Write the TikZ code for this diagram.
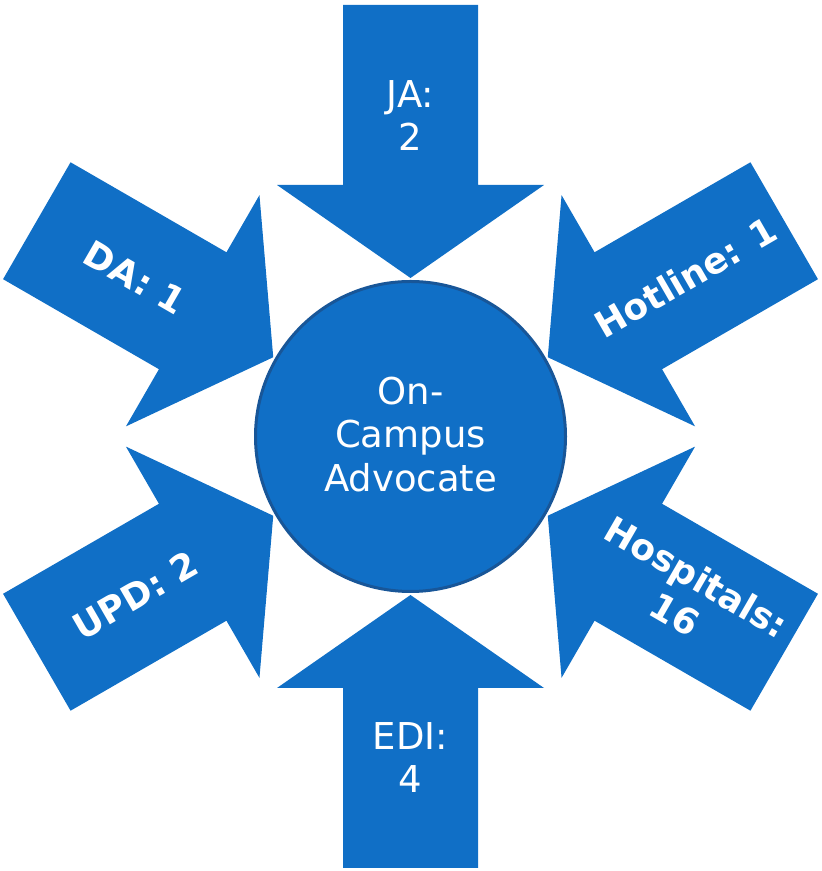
\documentclass[tikz,border=0pt]{standalone}
\usepackage{fontspec}
\setmainfont{DejaVu Sans}
\usetikzlibrary{calc}
\definecolor{arrowblue}{RGB}{16,111,198}
\definecolor{ringblue}{RGB}{24,86,152}
\begin{document}
\begin{tikzpicture}[x=0.5pt,y=0.5pt,
  bigarrow/.style={fill=arrowblue,draw=none},
  hub/.style={circle,fill=arrowblue,draw=ringblue,line width=1.5pt,minimum size=155pt,inner sep=0pt},
  lbl/.style={text=white,align=center,font=\fontsize{18.5}{21.7}\selectfont},
  blbl/.style={lbl,font=\bfseries\fontsize{18}{21.7}\selectfont}]
\useasboundingbox (0,0) rectangle (821,871);
\coordinate (C) at (410.5,434.5);
\foreach \a in {90,150,210,270,330,30}{
  \begin{scope}[shift={(C)},rotate=\a-90]
    \fill[bigarrow] (0,158.5) -- (133.5,251.5) -- (67.5,251.5) -- (67.5,431.5)
      -- (-67.5,431.5) -- (-67.5,251.5) -- (-133.5,251.5) -- cycle;
  \end{scope}
}
\node[hub] (hub) at (C) {};
\node[lbl] (centre) at ([yshift=1pt]C) {On-\\Campus\\Advocate};
\node[lbl] (ja) at ($(C)+(90:321)$) {JA:\\2};
\node[lbl] (edi) at ($(C)+(270:321)$) {EDI:\\4};
\node[blbl,rotate=-30] (da) at ($(C)+(150:318)$) {DA: 1};
\node[blbl,rotate=30] (hot) at ($(C)+(30:318)$) {Hotline: 1};
\node[blbl,rotate=30] (upd) at ($(C)+(210:318)$) {UPD: 2};
\node[blbl,rotate=-30] (hosp) at ($(C)+(330:318)$) {Hospitals:\\16};
\end{tikzpicture}
\end{document}
